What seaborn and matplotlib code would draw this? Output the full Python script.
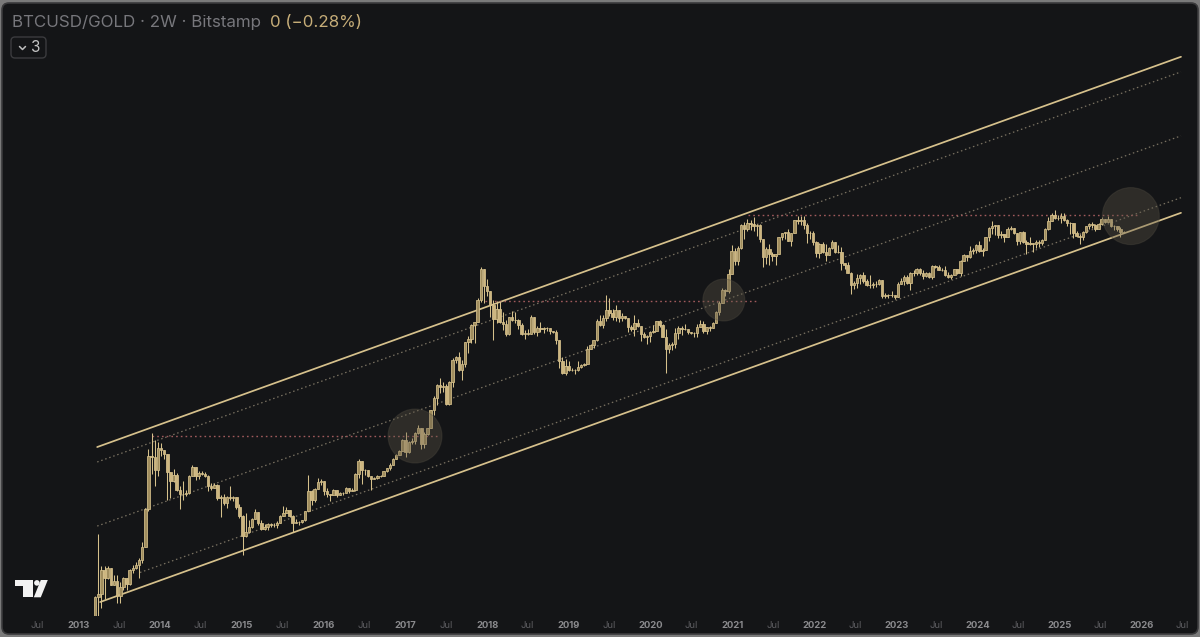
import matplotlib
matplotlib.use("Agg")
import pandas as pd
import matplotlib.pyplot as plt
from matplotlib.patches import FancyBboxPatch, Polygon, Circle
from matplotlib.lines import Line2D
from matplotlib.transforms import IdentityTransform
import seaborn as sns

# %% dados: razão BTCUSD/GOLD, velas de 2 semanas (fechamento, máxima, mínima)

first_open = 0.030

close_2013 = [0.058, 0.061, 0.092, 0.080, 0.096, 0.072, 0.076, 0.059, 0.069, 0.080, 0.073, 0.092, 0.095,
              0.100, 0.110, 0.137, 0.257, 0.64, 0.63, 0.50, 0.73]
high_2013 = [0.059, 0.170, 0.099, 0.098, 0.098, 0.096, 0.085, 0.084, 0.075, 0.082, 0.080, 0.093, 0.101,
             0.105, 0.113, 0.148, 0.265, 0.72, 0.945, 0.83, 0.81]
low_2013 = [0.029, 0.034, 0.048, 0.056, 0.079, 0.071, 0.072, 0.053, 0.053, 0.066, 0.066, 0.072, 0.087,
            0.094, 0.080, 0.104, 0.135, 0.25, 0.47, 0.38, 0.45]

close_2014 = [0.70, 0.66, 0.485, 0.42, 0.46, 0.36, 0.335, 0.335, 0.34, 0.45, 0.525, 0.45, 0.477,
              0.473, 0.452, 0.383, 0.372, 0.389, 0.311, 0.318, 0.289, 0.32, 0.314, 0.315, 0.268, 0.231]
high_2014 = [0.80, 0.69, 0.63, 0.48, 0.51, 0.48, 0.38, 0.415, 0.355, 0.46, 0.545, 0.50, 0.49,
             0.49, 0.485, 0.46, 0.405, 0.40, 0.395, 0.33, 0.333, 0.323, 0.385, 0.325, 0.31, 0.282]
low_2014 = [0.64, 0.61, 0.30, 0.31, 0.41, 0.35, 0.26, 0.30, 0.325, 0.337, 0.45, 0.425, 0.43,
            0.465, 0.444, 0.352, 0.36, 0.375, 0.30, 0.225, 0.276, 0.265, 0.30, 0.295, 0.26, 0.223]

close_2015 = [0.165, 0.176, 0.192, 0.217, 0.247, 0.204, 0.185, 0.191, 0.202, 0.197, 0.198, 0.204, 0.232,
              0.243, 0.256, 0.230, 0.203, 0.208, 0.208, 0.214, 0.249, 0.349, 0.302, 0.366, 0.410, 0.419]
high_2015 = [0.235, 0.242, 0.216, 0.222, 0.260, 0.240, 0.215, 0.201, 0.206, 0.204, 0.205, 0.212, 0.236,
             0.274, 0.270, 0.252, 0.234, 0.217, 0.210, 0.216, 0.252, 0.460, 0.358, 0.370, 0.437, 0.432]
low_2015 = [0.119, 0.160, 0.173, 0.188, 0.230, 0.196, 0.182, 0.182, 0.182, 0.191, 0.190, 0.188, 0.206,
            0.234, 0.252, 0.228, 0.175, 0.204, 0.197, 0.203, 0.211, 0.260, 0.279, 0.292, 0.363, 0.386]

close_2016 = [0.353, 0.336, 0.328, 0.356, 0.331, 0.340, 0.340, 0.372, 0.353, 0.355, 0.466, 0.585, 0.500,
              0.500, 0.450, 0.430, 0.435, 0.457, 0.453, 0.490, 0.518, 0.544, 0.608, 0.650, 0.695, 0.830]
high_2016 = [0.420, 0.367, 0.332, 0.364, 0.350, 0.344, 0.343, 0.374, 0.360, 0.367, 0.474, 0.600, 0.572,
             0.513, 0.496, 0.457, 0.447, 0.464, 0.458, 0.492, 0.522, 0.567, 0.620, 0.655, 0.700, 0.850]
low_2016 = [0.330, 0.318, 0.296, 0.327, 0.319, 0.336, 0.331, 0.340, 0.341, 0.351, 0.353, 0.440, 0.394,
            0.460, 0.444, 0.360, 0.428, 0.430, 0.449, 0.476, 0.486, 0.502, 0.571, 0.617, 0.664, 0.687]

close_2017 = [0.686, 0.810, 0.816, 0.948, 1.030, 0.776, 0.932, 1.023, 1.385, 1.710, 2.110, 2.060, 2.100,
              1.540, 2.240, 3.260, 3.400, 2.750, 3.010, 4.390, 4.650, 5.830, 6.190, 9.020, 15.10, 11.40]
high_2017 = [0.960, 0.815, 0.865, 0.956, 1.070, 1.000, 0.952, 1.027, 1.385, 1.750, 2.160, 2.380, 2.240,
             2.140, 2.280, 3.330, 3.470, 3.700, 3.240, 4.390, 4.840, 5.980, 6.190, 9.250, 15.60, 14.60]
low_2017 = [0.628, 0.672, 0.780, 0.777, 0.930, 0.720, 0.733, 0.910, 1.020, 1.270, 1.520, 1.840, 1.880,
            1.500, 1.500, 2.050, 3.080, 2.680, 2.300, 2.860, 3.670, 4.290, 4.290, 6.270, 8.600, 8.500]

close_2018 = [10.4, 8.30, 6.46, 7.74, 6.20, 6.00, 5.02, 6.67, 6.39, 6.35, 5.87, 5.08, 5.11,
              5.04, 6.70, 5.20, 5.56, 5.44, 5.59, 5.53, 5.29, 5.19, 4.58, 3.17, 2.62, 2.93]
high_2018 = [12.9, 10.4, 8.97, 8.80, 8.77, 7.33, 6.37, 6.74, 7.45, 7.28, 6.49, 6.05, 5.43,
             5.48, 6.95, 6.77, 5.73, 6.19, 5.68, 5.65, 5.46, 5.31, 5.36, 4.55, 3.39, 3.32]
low_2018 = [9.60, 6.70, 4.56, 6.10, 6.05, 5.41, 4.83, 4.94, 6.30, 6.11, 5.44, 4.96, 4.59,
            4.92, 5.10, 5.03, 4.90, 5.19, 5.09, 5.32, 5.00, 5.11, 4.26, 2.85, 2.54, 2.50]

close_2019 = [2.75, 2.73, 2.75, 2.90, 3.00, 3.04, 3.90, 4.20, 4.53, 6.26, 5.90, 6.64, 7.52,
              7.23, 6.70, 7.60, 6.61, 6.83, 6.60, 5.71, 5.50, 6.09, 5.79, 5.05, 4.81, 4.89]
high_2019 = [3.18, 2.85, 2.78, 3.17, 3.04, 3.08, 4.09, 4.27, 4.57, 6.50, 6.90, 6.94, 9.79,
             9.20, 7.76, 8.20, 7.53, 7.23, 6.86, 6.64, 5.90, 6.95, 6.47, 5.80, 5.25, 4.96]
low_2019 = [2.71, 2.70, 2.55, 2.68, 2.85, 2.93, 3.05, 3.88, 3.95, 4.50, 5.75, 5.56, 6.31,
            6.80, 6.42, 6.27, 6.19, 6.24, 6.50, 5.18, 5.30, 4.83, 5.72, 4.47, 4.74, 4.26]

close_2020 = [5.23, 5.31, 6.30, 5.87, 4.80, 3.88, 4.20, 4.23, 5.15, 5.57, 5.46, 5.46, 5.17, 5.14,
              5.10, 5.68, 6.00, 5.34, 5.67, 5.60, 6.05, 7.34, 8.45, 10.6, 10.5, 14.0, 20.6]
high_2020 = [5.29, 5.85, 6.33, 6.38, 5.94, 5.48, 4.32, 4.41, 5.56, 5.78, 5.75, 6.00, 5.50, 5.22,
             5.24, 5.95, 6.42, 6.24, 5.72, 5.79, 6.16, 7.45, 8.74, 10.9, 10.8, 15.1, 22.7]
low_2020 = [4.42, 5.15, 5.28, 5.65, 4.78, 2.58, 3.64, 3.85, 4.00, 4.66, 4.97, 5.35, 5.06, 5.00,
            4.77, 4.82, 5.75, 5.13, 5.08, 5.34, 5.55, 6.06, 6.99, 9.10, 9.57, 10.1, 14.1]

close_2021 = [17.4, 21.5, 32.2, 30.0, 33.0, 32.4, 31.5, 31.8, 25.2, 18.7, 21.4, 19.7, 18.9,
              19.7, 26.1, 27.7, 28.4, 24.5, 28.0, 35.1, 34.3, 35.1, 32.0, 28.0, 28.0, 23.9]
high_2021 = [21.6, 22.3, 32.8, 33.5, 35.5, 34.7, 36.6, 32.3, 32.3, 24.0, 21.9, 23.2, 20.2,
             19.7, 26.2, 27.8, 28.4, 30.1, 28.0, 35.1, 37.5, 37.0, 37.1, 33.0, 28.7, 28.9]
low_2021 = [16.3, 16.1, 21.3, 25.3, 29.0, 29.2, 28.9, 26.4, 23.8, 15.7, 16.6, 16.2, 17.5,
            16.3, 20.0, 24.6, 25.4, 24.4, 22.5, 27.7, 32.5, 32.2, 30.0, 23.5, 25.2, 22.6]

close_2022 = [19.8, 23.3, 20.2, 19.3, 21.5, 24.0, 20.1, 20.2, 16.7, 16.1, 14.2, 11.5, 11.9,
              13.1, 13.7, 12.3, 11.6, 11.6, 11.7, 11.7, 12.5, 9.60, 9.70, 9.80, 9.70, 9.50]
high_2022 = [24.2, 23.5, 24.1, 23.0, 22.2, 25.0, 23.8, 22.6, 21.9, 16.5, 17.1, 14.5, 12.3,
             14.0, 13.9, 14.4, 12.7, 13.6, 12.1, 12.4, 12.8, 12.6, 10.1, 10.0, 10.5, 9.80]
low_2022 = [18.5, 18.2, 20.0, 17.4, 19.4, 21.2, 19.9, 19.8, 14.8, 15.1, 14.1, 10.0, 10.8,
            11.0, 11.7, 11.9, 11.4, 11.0, 10.9, 11.1, 11.5, 9.20, 9.20, 9.30, 9.40, 9.10]

close_2023 = [11.8, 12.3, 13.2, 11.9, 14.1, 14.2, 15.1, 14.1, 13.4, 14.2, 13.2, 15.9, 15.7,
              14.9, 14.9, 13.8, 13.3, 13.8, 15.1, 14.2, 17.3, 19.1, 18.6, 20.6, 20.9, 22.8]
high_2023 = [12.1, 13.0, 13.7, 13.6, 14.3, 14.8, 15.4, 15.3, 14.8, 14.3, 14.5, 16.3, 16.3,
             16.2, 15.3, 16.0, 14.5, 14.0, 15.1, 15.0, 17.6, 19.5, 19.2, 22.3, 21.6, 23.0]
low_2023 = [9.40, 12.0, 11.6, 11.8, 10.6, 13.5, 13.6, 13.6, 12.8, 13.3, 13.0, 12.9, 15.3,
            14.8, 14.7, 13.4, 13.0, 12.9, 14.1, 13.9, 13.5, 17.6, 17.4, 18.3, 19.6, 20.0]

close_2024 = [20.5, 20.9, 25.9, 30.3, 31.4, 31.9, 27.1, 27.4, 26.1, 29.7, 30.3, 27.7, 24.2,
              28.4, 23.8, 23.3, 23.6, 23.3, 23.8, 23.7, 24.7, 30.0, 34.3, 38.0, 36.2, 35.8]
high_2024 = [24.2, 21.5, 26.2, 30.7, 34.2, 32.1, 31.1, 28.8, 27.4, 30.8, 31.4, 30.2, 26.7,
             28.5, 28.7, 25.0, 26.0, 23.5, 25.0, 24.7, 25.3, 30.2, 36.7, 39.0, 41.3, 37.8]
low_2024 = [20.1, 18.9, 21.1, 24.3, 27.4, 27.2, 25.6, 25.5, 23.9, 26.0, 29.3, 27.3, 22.7,
            23.2, 23.5, 19.6, 22.9, 20.4, 21.6, 22.2, 22.6, 24.9, 29.5, 34.1, 35.2, 34.7]

close_2025 = [37.4, 34.9, 33.2, 32.9, 27.7, 26.7, 26.2, 28.4, 31.3, 32.4, 31.9,
              30.1, 32.4, 35.6, 33.9, 35.2, 31.4, 31.6, 29.8, 28.6, 28.5]
high_2025 = [39.2, 39.1, 35.6, 33.7, 31.8, 28.8, 27.5, 28.8, 31.5, 33.3, 33.4,
             32.8, 33.1, 36.7, 35.7, 37.3, 34.1, 32.0, 31.4, 30.9, 29.0]
low_2025 = [33.0, 34.3, 31.7, 27.3, 25.7, 26.3, 23.1, 25.0, 28.1, 30.0, 30.3,
            29.1, 30.0, 32.0, 33.3, 33.7, 31.1, 29.4, 28.9, 26.1, 28.2]

# canal: linhas de tendência (início, fim, valor no início, valor no fim)
channel_names = ["topo", "topo interno", "meio", "base interna", "base"]
channel_start = ["2013-03-27", "2013-03-27", "2013-03-27", "2013-10-04", "2013-04-09"]
channel_end = ["2026-06-26", "2026-06-26", "2026-06-26", "2026-06-26", "2026-06-26"]
channel_from = [0.741, 0.575, 0.194, 0.0883, 0.0535]
channel_to = [554.0, 429.0, 145.0, 50.8, 39.3]

# níveis horizontais (topos anteriores)
level_values = [0.893, 8.81, 38.2]
level_start = ["2013-11-26", "2017-12-21", "2021-03-11"]
level_end = ["2017-06-04", "2021-04-25", "2025-12-24"]

# círculos de destaque
circle_dates = ["2017-02-13", "2020-11-23", "2025-11-14"]
circle_values = [0.893, 8.96, 37.2]
circle_radius_px = [27, 21, 28.5]

year_labels = [str(a) for a in range(2013, 2027)]
jul_years = list(range(2012, 2027))

# %% montando o DataFrame das velas

close = (close_2013 + close_2014 + close_2015 + close_2016 + close_2017 + close_2018 + close_2019
         + close_2020 + close_2021 + close_2022 + close_2023 + close_2024 + close_2025)
high = (high_2013 + high_2014 + high_2015 + high_2016 + high_2017 + high_2018 + high_2019
        + high_2020 + high_2021 + high_2022 + high_2023 + high_2024 + high_2025)
low = (low_2013 + low_2014 + low_2015 + low_2016 + low_2017 + low_2018 + low_2019
       + low_2020 + low_2021 + low_2022 + low_2023 + low_2024 + low_2025)

candles_df = pd.DataFrame({
    "data": pd.date_range("2013-03-18", periods=len(close), freq="14D"),
    "close": close,
    "high": high,
    "low": low,
})
candles_df["open"] = [first_open] + close[:-1]
candles_df["high"] = candles_df[["high", "open", "close"]].max(axis=1)
candles_df["low"] = candles_df[["low", "open", "close"]].min(axis=1)
candles_df["base"] = candles_df[["open", "close"]].min(axis=1)
candles_df["altura"] = (candles_df["close"] - candles_df["open"]).abs()
candles_df["sobe"] = candles_df["close"] >= candles_df["open"]

# %% estilo

BG = "#141517"
GOLD = "#d6c18c"
sns.set_theme(style="dark", rc={"axes.facecolor": BG, "figure.facecolor": "#7a7a7a"})
plt.rcParams["font.family"] = ["Inter", "DejaVu Sans"]

W, H = 1200, 637
fig = plt.figure(figsize=(W / 100, H / 100), dpi=100)


def fx(x):
    return x / W


def fy(y):
    return 1 - y / H


# painel escuro com borda arredondada (atrás dos eixos)
painel = FancyBboxPatch((2, 3), W - 4, H - 6, boxstyle="round,pad=0,rounding_size=7",
                        transform=IdentityTransform(), facecolor=BG, edgecolor="#3a3a3c", lw=1.2,
                        zorder=-10)
fig.patches.append(painel)

ax = fig.add_axes([0, 21 / H, 1, 616 / H])
ax.set_facecolor("none")
ax.set_zorder(1)
ax.set_yscale("log")

# linhas do canal
estilos = {
    "topo": dict(color=GOLD, lw=1.25, linestyle="-"),
    "topo interno": dict(color="#7a7262", lw=0.9, linestyle=(0, (1.2, 2.2))),
    "meio": dict(color="#7a7262", lw=0.9, linestyle=(0, (1.2, 2.2))),
    "base interna": dict(color="#7a7262", lw=0.9, linestyle=(0, (1.2, 2.2))),
    "base": dict(color=GOLD, lw=1.25, linestyle="-"),
}
for nome, ini, fim, v0, v1 in zip(channel_names, channel_start, channel_end, channel_from, channel_to):
    linha_df = pd.DataFrame({"data": pd.to_datetime([ini, fim]), "valor": [v0, v1]})
    sns.lineplot(data=linha_df, x="data", y="valor", ax=ax, estimator=None, sort=False,
                 legend=False, zorder=2, **estilos[nome])

# níveis horizontais pontilhados
for valor, ini, fim in zip(level_values, level_start, level_end):
    nivel_df = pd.DataFrame({"data": pd.to_datetime([ini, fim]), "valor": [valor, valor]})
    sns.lineplot(data=nivel_df, x="data", y="valor", ax=ax, estimator=None, sort=False,
                 legend=False, color="#a05a5c", lw=1.0, linestyle=(0, (1.2, 2.2)), zorder=2)

# velas
ax.vlines(candles_df["data"], candles_df["low"], candles_df["high"], colors=GOLD, lw=0.75, zorder=3)
cores = ["#a08d5e" if s else "#cdb680" for s in candles_df["sobe"]]
ax.bar(candles_df["data"], candles_df["altura"], bottom=candles_df["base"], width=11,
       color=cores, edgecolor=GOLD, linewidth=0.55, zorder=4)

# círculos translúcidos
tamanhos = [(2 * r * 0.72) ** 2 for r in circle_radius_px]
sns.scatterplot(x=pd.to_datetime(circle_dates), y=circle_values, s=tamanhos, ax=ax,
                color="#5e5747", alpha=0.36, edgecolor="#4d493f", linewidth=0.8, zorder=5, legend=False)

# eixos
ax.set_xlim(pd.Timestamp("2012-01-18"), pd.Timestamp("2026-09-19"))
ax.set_ylim(0.04223, 1451)
ax.set_xticks(pd.to_datetime([f"{a}-01-01" for a in year_labels]))
ax.set_xticklabels(year_labels, fontsize=6.8, fontweight="bold", color="#8a8a8d")
ax.set_xticks(pd.to_datetime([f"{a}-07-01" for a in jul_years]), minor=True)
ax.set_xticklabels(["Jul"] * len(jul_years), minor=True, fontsize=6.8, color="#5e5e62")
ax.tick_params(axis="x", which="both", length=0, pad=3.5)
ax.set_yticks([])
ax.set_yticks([], minor=True)
ax.set_xlabel("")
ax.set_ylabel("")
for lado in ax.spines.values():
    lado.set_visible(False)
ax.grid(False)

# cabeçalho
fig.text(fx(12), fy(27), "BTCUSD/GOLD · 2W · Bitstamp", fontsize=12.2, color="#77777c", va="baseline")
fig.text(fx(270), fy(27), "0 (−0.28%)", fontsize=12.2, color="#c6ad78", va="baseline")

caixa = FancyBboxPatch((11, H - 58), 35, 21, boxstyle="round,pad=0,rounding_size=4",
                       transform=IdentityTransform(), facecolor=BG, edgecolor="#3b3b3e", lw=1)
fig.patches.append(caixa)
fig.lines.append(Line2D([19.5, 22.5, 25.5], [H - 46.5, H - 49.5, H - 46.5], transform=IdentityTransform(),
                        color="#bdbdbd", lw=1.1))
fig.text(fx(35.5), fy(48), "3", fontsize=11, color="#c4c4c4", ha="center", va="center")

# logo
logo_t = Polygon([(15, H - 580), (33.3, H - 580), (33.3, H - 597.3), (23.3, H - 597.3),
                  (23.3, H - 586.3), (15, H - 586.3)], closed=True, transform=IdentityTransform(),
                 facecolor="#f2f2f2", edgecolor="none")
logo_barra = Polygon([(33.8, H - 597.3), (40.8, H - 597.3), (47.8, H - 580), (40.8, H - 580)], closed=True,
                     transform=IdentityTransform(), facecolor="#f2f2f2", edgecolor="none")
logo_ponto = Circle((36.9, H - 582.9), 2.8, transform=IdentityTransform(), facecolor="#f2f2f2",
                    edgecolor="none")
fig.patches.extend([logo_t, logo_barra, logo_ponto])

plt.savefig("out.png", dpi=100, facecolor=fig.get_facecolor())
